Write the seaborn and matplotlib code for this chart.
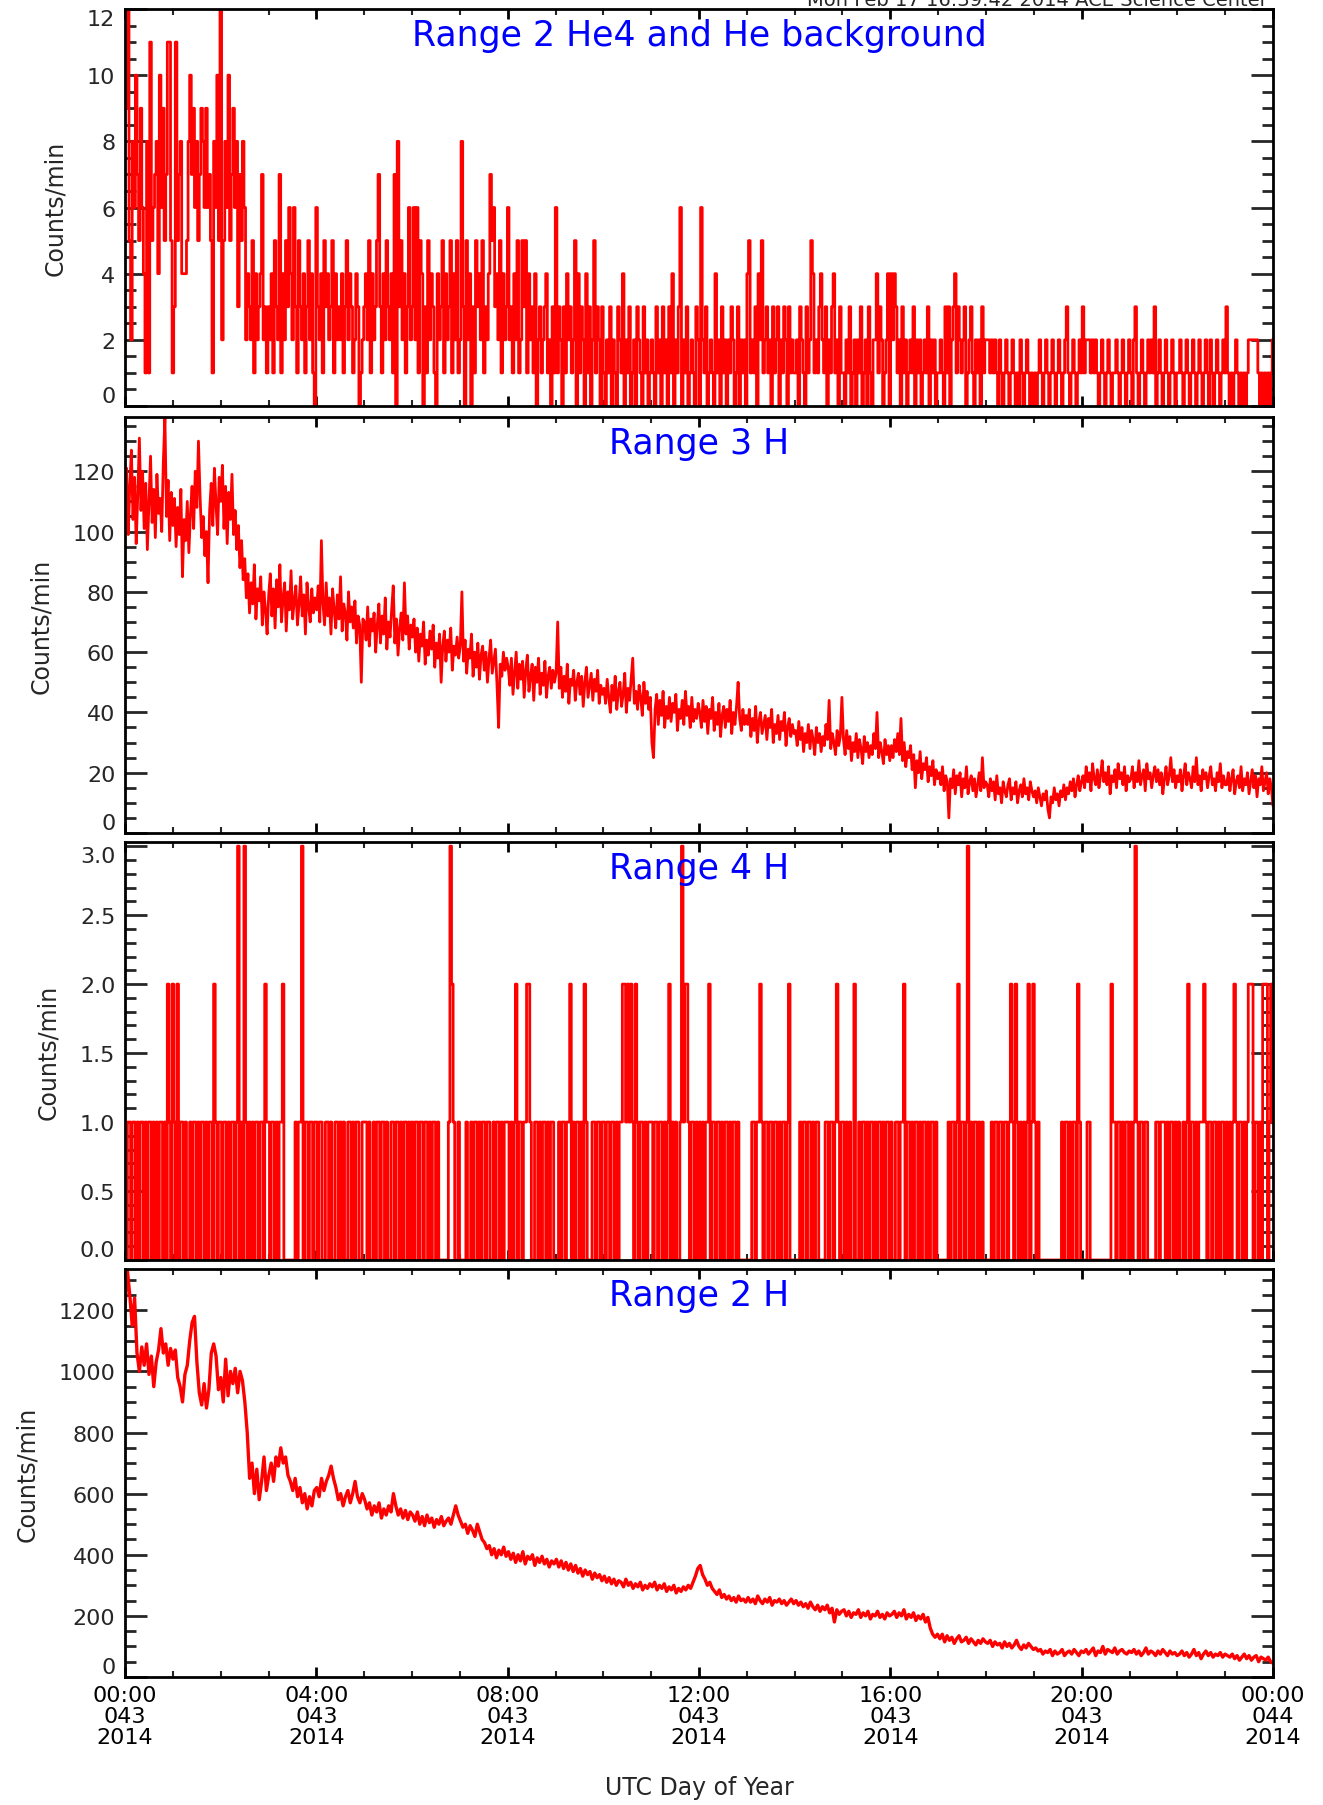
import numpy as np
import pandas as pd
import seaborn as sns
import matplotlib
matplotlib.use("Agg")
import matplotlib.pyplot as plt
from matplotlib.ticker import MultipleLocator, FormatStrFormatter

# Range 2 He4 and He background, 2-min counts (hex digit per sample, one string per hour)
he4_hours = [
    "b9c5286a75964181b56784a6957bb5", "13b57844458a7968579869675186a5",
    "c2586a579683758624325142347231", "324153271425364263153241352410",
    "632415342351423241352431243012", "342514235731425324170835241362",
    "362615403152431042351423514251", "283052403153425132475634251423",
    "623142512535142314023123412031", "613203142312504132041302513203",
    "102130210321402130120321031201", "210312031203140213602130121032",
    "062130121041203120213201302120", "451213042512312031230213203121",
    "120321031254121342130213412031", "102130120213012031022413201240",
    "424312031201213021201213021201", "121031302341321230123102120312",
    "221212102101210121010210121010", "101210121012101210123101210121",
    "312221212101210121011210121012", "102310121012121301210121012101",
    "121012101210121012102101210121", "310101210101012222221010101012",
]

# Range 3 H, 2-min counts/min (30 per hour)
r3h = [
    108, 121, 99, 115, 127, 104, 118, 96, 112, 131, 107, 120, 101, 116, 94, 110, 125, 103, 114, 98, 119, 106, 111, 100, 123, 138, 105, 117, 97, 113,
    102, 111, 95, 108, 99, 114, 85, 104, 97, 110, 93, 106, 115, 101, 120, 108, 130, 112, 98, 105, 92, 100, 83, 107, 116, 102, 121, 109, 99, 118,
    110, 122, 101, 115, 96, 113, 104, 119, 99, 107, 94, 102, 88, 97, 84, 91, 78, 86, 73, 83, 76, 89, 71, 81, 77, 85, 69, 80, 74, 66,
    79, 86, 72, 81, 68, 84, 75, 89, 70, 78, 83, 67, 80, 74, 87, 71, 77, 82, 69, 76, 85, 72, 79, 66, 83, 75, 70, 81, 73, 78,
    74, 82, 70, 97, 76, 69, 83, 72, 78, 66, 81, 74, 68, 79, 71, 85, 67, 76, 73, 64, 80, 70, 75, 68, 77, 63, 72, 69, 50, 71,
    70, 64, 75, 62, 71, 67, 73, 60, 69, 76, 63, 72, 66, 78, 61, 70, 65, 74, 82, 63, 71, 59, 68, 73, 64, 83, 66, 72, 61, 69,
    65, 71, 60, 68, 57, 66, 62, 70, 56, 64, 59, 67, 61, 69, 55, 63, 58, 66, 50, 62, 67, 57, 64, 60, 68, 54, 62, 59, 65, 58,
    62, 80, 57, 64, 53, 61, 58, 66, 52, 60, 55, 63, 51, 59, 62, 54, 60, 50, 58, 64, 53, 57, 61, 49, 35, 56, 52, 60, 54, 58,
    55, 49, 58, 46, 53, 60, 48, 56, 51, 57, 45, 54, 59, 47, 52, 56, 44, 55, 50, 58, 46, 53, 49, 57, 45, 52, 55, 48, 54, 50,
    53, 70, 48, 55, 45, 52, 47, 56, 43, 51, 49, 54, 44, 50, 53, 46, 52, 42, 50, 55, 45, 49, 53, 44, 51, 47, 54, 43, 49, 46,
    48, 43, 51, 45, 40, 49, 44, 52, 41, 47, 50, 42, 46, 53, 40, 48, 44, 51, 58, 43, 47, 41, 49, 45, 39, 50, 43, 47, 41, 45,
    30, 25, 41, 46, 36, 44, 39, 47, 35, 42, 38, 45, 37, 43, 40, 46, 34, 41, 38, 44, 36, 47, 39, 42, 35, 45, 37, 41, 38, 43,
    40, 35, 44, 37, 42, 33, 41, 38, 45, 34, 40, 36, 43, 32, 39, 42, 35, 41, 37, 44, 33, 40, 36, 42, 50, 38, 34, 41, 36, 39,
    36, 41, 32, 38, 34, 42, 30, 37, 40, 33, 36, 39, 31, 38, 35, 41, 30, 36, 33, 39, 31, 37, 34, 40, 29, 35, 38, 32, 36, 33,
    34, 29, 37, 31, 35, 27, 33, 30, 36, 28, 34, 31, 26, 35, 30, 33, 27, 32, 29, 36, 31, 44, 28, 33, 30, 26, 34, 29, 32, 45,
    31, 26, 34, 28, 32, 24, 30, 27, 33, 25, 31, 28, 23, 32, 27, 30, 25, 29, 26, 33, 28, 40, 25, 30, 27, 23, 31, 26, 29, 24,
    29, 25, 31, 27, 33, 26, 38, 24, 30, 22, 27, 25, 29, 21, 26, 15, 24, 20, 27, 18, 23, 21, 25, 17, 22, 19, 24, 16, 21, 18,
    20, 16, 22, 14, 19, 17, 5, 18, 15, 21, 13, 19, 16, 20, 12, 18, 15, 22, 13, 17, 19, 14, 18, 12, 16, 20, 14, 25, 15, 17,
    16, 12, 18, 14, 17, 11, 19, 13, 15, 10, 17, 14, 12, 16, 18, 11, 15, 13, 17, 10, 14, 16, 12, 18, 13, 15, 11, 17, 14, 12,
    14, 10, 15, 12, 9, 13, 11, 14, 8, 5, 12, 10, 15, 11, 13, 9, 14, 12, 16, 11, 15, 13, 17, 14, 18, 12, 16, 19, 14, 17,
    19, 15, 22, 17, 20, 14, 23, 18, 16, 21, 15, 19, 24, 17, 20, 16, 22, 13, 19, 17, 21, 15, 23, 18, 20, 16, 22, 14, 19, 17,
    18, 22, 15, 20, 17, 24, 16, 19, 21, 14, 23, 18, 20, 15, 19, 22, 17, 21, 16, 20, 13, 18, 22, 16, 19, 25, 17, 21, 15, 19,
    17, 21, 14, 19, 23, 16, 20, 18, 15, 22, 17, 25, 16, 19, 14, 21, 18, 20, 15, 19, 22, 16, 18, 14, 20, 17, 23, 15, 19, 16,
    16, 20, 14, 18, 21, 13, 17, 19, 15, 22, 14, 18, 16, 20, 13, 17, 21, 15, 19, 12, 18, 16, 22, 14, 17, 20, 13, 18, 15, 9,
]

# Range 4 H, 2-min counts (one string per hour)
r4h_hours = [
    "101101101011010110101011010210", "210201101001011010110101102101",
    "101101011013010310101011011021", "101101011200000001011301101101",
    "101100110100110101001101011001", "110100101101101001101101011010",
    "101101101101011010000001321001", "000010010110101101100101101011",
    "101012011011221001101011010110", "001011011201011010210001101101",
    "101101101011221212102101101011", "101101101012010100131221011010",
    "101011201101101011010110100000", "000110112101101101101011012000",
    "000101101101011000011011012101", "101010020010110101101011010110",
    "100110112011010110101101011010", "000000101101201101301011010100",
    "000101101101101210210101012012", "101000000000000001011010110210",
    "000110000000000000211011010110", "101310110110000011011101011010",
    "100101201101011121011011010110", "101012101101012220110102220121",
]

# Range 2 H, 3-min counts/min (20 per hour)
r2h = [
    1210, 1330, 1250, 1150, 1240, 1060, 1000, 1080, 1020, 1090, 990, 1050, 950, 1030, 1070, 1140, 1060, 1090, 1020, 1075,
    1040, 1070, 980, 950, 900, 990, 1020, 1100, 1160, 1180, 1030, 930, 890, 960, 880, 940, 1060, 1090, 1050, 940,
    980, 900, 1040, 920, 1000, 960, 1010, 930, 1000, 970, 900, 800, 650, 700, 600, 680, 580, 640, 720, 610,
    660, 700, 640, 720, 690, 750, 700, 720, 660, 640, 610, 650, 590, 620, 570, 600, 550, 590, 560, 610,
    620, 590, 650, 610, 640, 660, 690, 650, 620, 580, 600, 560, 590, 610, 570, 600, 640, 590, 570, 600,
    580, 550, 570, 530, 560, 540, 570, 520, 550, 530, 560, 540, 600, 560, 530, 550, 520, 545, 515, 540,
    530, 510, 540, 500, 525, 495, 530, 505, 520, 490, 515, 500, 525, 495, 510, 520, 500, 530, 560, 530,
    510, 490, 500, 470, 495, 480, 460, 500, 475, 450, 440, 420, 430, 400, 420, 390, 415, 400, 425, 395,
    410, 385, 405, 375, 400, 380, 410, 370, 395, 385, 400, 365, 390, 375, 395, 370, 385, 360, 380, 370,
    385, 360, 380, 355, 375, 350, 370, 345, 365, 340, 355, 330, 350, 335, 345, 320, 340, 325, 335, 315,
    330, 310, 325, 305, 320, 300, 315, 310, 295, 320, 300, 310, 290, 305, 295, 310, 285, 300, 290, 305,
    295, 310, 285, 300, 290, 305, 280, 295, 285, 300, 275, 290, 280, 295, 285, 300, 290, 310, 330, 355,
    365, 335, 320, 300, 310, 290, 280, 270, 285, 260, 270, 255, 265, 250, 260, 245, 265, 250, 255, 245,
    260, 245, 255, 240, 265, 250, 240, 255, 245, 260, 235, 250, 245, 255, 240, 250, 235, 245, 255, 240,
    250, 235, 245, 230, 240, 225, 245, 230, 220, 235, 215, 230, 220, 235, 210, 225, 180, 220, 205, 215,
    220, 200, 215, 195, 210, 205, 220, 195, 210, 200, 215, 190, 205, 200, 215, 195, 205, 190, 210, 200,
    205, 215, 195, 210, 200, 220, 190, 205, 195, 210, 185, 200, 190, 205, 180, 195, 160, 140, 130, 140,
    125, 140, 115, 135, 120, 130, 110, 125, 135, 115, 120, 130, 110, 125, 115, 105, 120, 110, 125, 115,
    110, 120, 100, 115, 105, 110, 95, 115, 100, 110, 95, 105, 120, 100, 90, 105, 95, 110, 100, 90,
    95, 85, 90, 75, 85, 80, 90, 70, 85, 75, 80, 90, 70, 80, 85, 75, 90, 80, 70, 85,
    80, 90, 75, 85, 95, 70, 85, 80, 100, 75, 90, 85, 80, 95, 75, 85, 90, 80, 75, 85,
    80, 90, 75, 85, 70, 80, 95, 75, 85, 80, 70, 85, 75, 90, 80, 70, 85, 75, 80, 70,
    75, 85, 70, 80, 65, 75, 90, 70, 80, 60, 75, 85, 70, 80, 65, 75, 70, 80, 65, 75,
    70, 65, 75, 60, 70, 55, 65, 75, 60, 70, 55, 65, 70, 50, 65, 60, 55, 65, 50, 45,
]

titles = ["Range 2 He4 and He background", "Range 3 H", "Range 4 H", "Range 2 H"]
ylims = [(0, 12), (0, 138), (0, 3.03), (0, 1335)]
ymajor = [2, 20, 0.5, 200]
yminor = [0.5, 5, 0.1, 50]
yfmt = ["%d", "%d", "%.1f", "%d"]
tick_labels = ["00:00\n043\n2014", "04:00\n043\n2014", "08:00\n043\n2014",
               "12:00\n043\n2014", "16:00\n043\n2014", "20:00\n043\n2014",
               "00:00\n044\n2014"]

he4 = [int(c, 16) for c in "".join(he4_hours)]
r4h = [int(c) for c in "".join(r4h_hours)]
series = [(he4, "steps-mid"), (r3h, "default"), (r4h, "steps-mid"), (r2h, "default")]
widths = [2, 2, 2, 2.4]

sns.set_theme(style="ticks")
plt.rcParams["font.family"] = ["DejaVu Sans"]
plt.rcParams["axes.linewidth"] = 2

W, H = 1323, 1806
fig = plt.figure(figsize=(W / 100, H / 100), dpi=100)
left, right = 125, 1273
panels_px = [(10, 407), (418, 834), (843, 1261), (1270, 1678)]
axes = []

for i, (top, bot) in enumerate(panels_px):
    ax = fig.add_axes([left / W, 1 - bot / H, (right - left) / W, (bot - top) / H])
    axes.append(ax)
    vals, style = series[i]
    n = len(vals)
    df = pd.DataFrame({"hour": np.arange(n) * 24.0 / (n - 1), "counts": vals})
    sns.lineplot(data=df, x="hour", y="counts", ax=ax, color="#ff0000",
                 linewidth=widths[i], estimator=None, drawstyle=style)
    ax.set_xlim(0, 24)
    ax.set_ylim(*ylims[i])
    ax.xaxis.set_major_locator(MultipleLocator(4))
    ax.xaxis.set_minor_locator(MultipleLocator(1))
    ax.yaxis.set_major_locator(MultipleLocator(ymajor[i]))
    ax.yaxis.set_minor_locator(MultipleLocator(yminor[i]))
    ax.yaxis.set_major_formatter(FormatStrFormatter(yfmt[i]))
    ax.tick_params(axis="x", which="major", direction="in", length=7, width=2,
                   top=True, bottom=True, labelsize=16, pad=6, colors="black")
    ax.tick_params(axis="x", which="minor", direction="in", length=4, width=1.5,
                   top=True, bottom=True)
    ax.tick_params(axis="y", which="major", direction="in", length=16, width=2,
                   left=True, right=True, labelsize=16, pad=7)
    ax.tick_params(axis="y", which="minor", direction="in", length=8, width=2,
                   left=True, right=True)
    for s in ax.spines.values():
        s.set_color("black")
        s.set_linewidth(2)
    if i == 3:
        ax.set_xticks([0, 4, 8, 12, 16, 20, 24])
        ax.set_xticklabels(tick_labels, linespacing=1.05)
    else:
        ax.set_xticklabels([])
    ax.set_xlabel("")
    ax.set_ylabel("Counts/min", fontsize=17, labelpad=14)
    ax.annotate(titles[i], xy=(0.5, 1), xycoords="axes fraction",
                xytext=(0, -19), textcoords="offset points",
                ha="center", va="center", color="#0000ff", fontsize=25)

fig.text((left + right) / 2 / W, 1 - 1788 / H, "UTC Day of Year",
         ha="center", va="center", fontsize=17)
# header sits half off the top edge, as in the original
fig.text(1268 / W, 1 - 6 / H, "Mon Feb 17 16:39:42 2014 ACE Science Center",
         ha="right", va="baseline", fontsize=14)

# keep the end labels inside their own panel
fig.canvas.draw()
for ax in axes:
    lo, hi = ax.get_ylim()
    span = hi - lo
    for tick in ax.yaxis.get_major_ticks():
        y = tick.get_loc()
        if abs(y - lo) < 0.02 * span:
            tick.label1.set_verticalalignment("bottom")
        elif abs(y - hi) < 0.02 * span:
            tick.label1.set_verticalalignment("top")

fig.savefig("out.png", dpi=100, facecolor="white")
